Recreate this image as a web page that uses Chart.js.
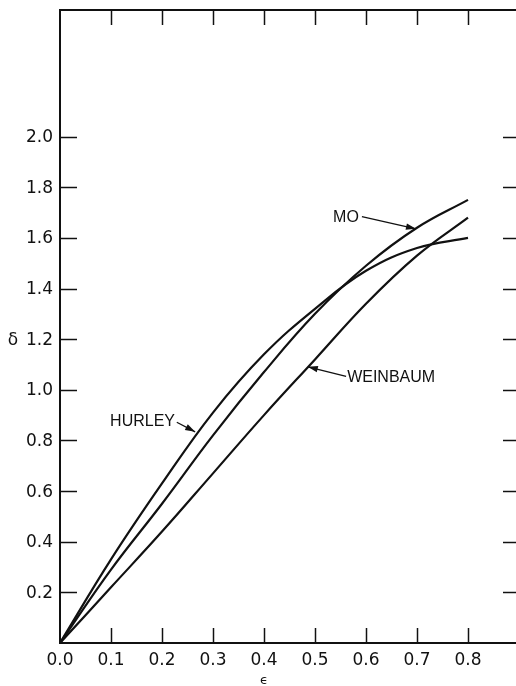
<!DOCTYPE html>
<html>
<head>
<meta charset="utf-8">
<script src="https://cdn.jsdelivr.net/npm/chart.js@4.4.0/dist/chart.umd.min.js"></script>
<style>
  html, body { margin: 0; padding: 0; background: #fff; overflow: hidden; }
  canvas { position: absolute; left: 0; top: 0; }
</style>
</head>
<body>
<canvas id="c" width="530" height="686"></canvas>
<script>
// ---- data ----
const eps      = [0, 0.1, 0.2, 0.3, 0.4, 0.5, 0.6, 0.7, 0.8];
const hurley   = [0, 0.33, 0.63, 0.91, 1.14, 1.32, 1.47, 1.56, 1.60];
const mo       = [0, 0.29, 0.55, 0.82, 1.07, 1.30, 1.49, 1.64, 1.75];
const weinbaum = [0, 0.22, 0.44, 0.67, 0.90, 1.12, 1.34, 1.53, 1.68];
const xTicks   = [0.1, 0.2, 0.3, 0.4, 0.5, 0.6, 0.7, 0.8, 0.9];
const yTicks   = [0.2, 0.4, 0.6, 0.8, 1.0, 1.2, 1.4, 1.6, 1.8, 2.0];
const xLabels  = [0.0, 0.1, 0.2, 0.3, 0.4, 0.5, 0.6, 0.7, 0.8];

const pts = arr => eps.map((x, i) => ({ x: x, y: arr[i] }));

const notes = [
  { text: 'MO',       tx: 0.586, ty: 1.684, align: 'right', fx: 0.592, fy: 1.684, ax: 0.698, ay: 1.636 },
  { text: 'HURLEY',   tx: 0.2255, ty: 0.877, align: 'right', fx: 0.229, fy: 0.872, ax: 0.265, ay: 0.834 },
  { text: 'WEINBAUM', tx: 0.563, ty: 1.051, align: 'left',  fx: 0.561, fy: 1.053, ax: 0.486, ay: 1.091 }
];

const INK = '#111';

const framePlugin = {
  id: 'frame',
  afterDatasetsDraw(chart) {
    const ctx = chart.ctx;
    const xs = chart.scales.x, ys = chart.scales.y;
    const a = chart.chartArea;
    ctx.save();
    ctx.strokeStyle = INK;
    ctx.lineCap = 'butt';
    // frame (the right edge of the original frame lies beyond the picture)
    ctx.lineWidth = 2;
    ctx.beginPath();
    ctx.moveTo(a.right, a.bottom); ctx.lineTo(a.left, a.bottom);
    ctx.lineTo(a.left, a.top); ctx.lineTo(a.right, a.top);
    ctx.stroke();
    // inside ticks
    ctx.lineWidth = 1.5;
    xTicks.forEach(v => {
      const px = Math.round(xs.getPixelForValue(v)) + 0.5;
      ctx.beginPath(); ctx.moveTo(px, a.bottom); ctx.lineTo(px, a.bottom - 15); ctx.stroke();
      ctx.beginPath(); ctx.moveTo(px, a.top); ctx.lineTo(px, a.top + 15); ctx.stroke();
    });
    yTicks.forEach(v => {
      const py = Math.round(ys.getPixelForValue(v)) + 0.5;
      ctx.beginPath(); ctx.moveTo(a.left, py); ctx.lineTo(a.left + 17, py); ctx.stroke();
      ctx.beginPath(); ctx.moveTo(a.right, py); ctx.lineTo(a.right - 16, py); ctx.stroke();
    });
    // tick labels
    ctx.fillStyle = INK;
    ctx.font = '17px "DejaVu Sans"';
    ctx.textBaseline = 'middle';
    ctx.textAlign = 'right';
    yTicks.forEach(v => {
      ctx.fillText(v.toFixed(1), a.left - 7, ys.getPixelForValue(v) + 1);
    });
    ctx.textAlign = 'center';
    xLabels.forEach(v => {
      ctx.fillText(v.toFixed(1), xs.getPixelForValue(v), a.bottom + 18);
    });
    // axis titles
    ctx.font = '17px "DejaVu Sans"';
    ctx.fillText('δ', 13, ys.getPixelForValue(1.2) + 1);
    ctx.font = '13px "DejaVu Sans"';
    ctx.fillText('ϵ', xs.getPixelForValue(0.4), a.bottom + 38);
    // curve labels with arrows
    ctx.font = '16px "Liberation Sans"';
    notes.forEach(n => {
      ctx.textAlign = n.align;
      ctx.fillText(n.text, xs.getPixelForValue(n.tx), ys.getPixelForValue(n.ty) + 1);
      const x1 = xs.getPixelForValue(n.fx), y1 = ys.getPixelForValue(n.fy);
      const x2 = xs.getPixelForValue(n.ax), y2 = ys.getPixelForValue(n.ay);
      ctx.lineWidth = 1.3;
      ctx.beginPath(); ctx.moveTo(x1, y1); ctx.lineTo(x2, y2); ctx.stroke();
      const ang = Math.atan2(y2 - y1, x2 - x1);
      const L = 10, W = 3.2;
      ctx.beginPath();
      ctx.moveTo(x2, y2);
      ctx.lineTo(x2 - L * Math.cos(ang) + W * Math.sin(ang), y2 - L * Math.sin(ang) - W * Math.cos(ang));
      ctx.lineTo(x2 - L * Math.cos(ang) - W * Math.sin(ang), y2 - L * Math.sin(ang) + W * Math.cos(ang));
      ctx.closePath();
      ctx.fill();
    });
    ctx.restore();
  }
};

const lineDs = (label, arr) => ({
  label: label,
  data: pts(arr),
  showLine: true,
  borderColor: INK,
  borderWidth: 2.2,
  pointRadius: 0,
  fill: false,
  tension: 0.4
});

new Chart(document.getElementById('c'), {
  type: 'scatter',
  data: {
    datasets: [
      lineDs('HURLEY', hurley),
      lineDs('MO', mo),
      lineDs('WEINBAUM', weinbaum)
    ]
  },
  options: {
    responsive: false,
    animation: false,
    layout: { padding: { top: 10, right: 11, left: 0, bottom: 0 } },
    plugins: { legend: { display: false }, tooltip: { enabled: false } },
    scales: {
      x: {
        type: 'linear', min: 0, max: 0.9,
        grid: { display: false },
        border: { display: false },
        ticks: { display: false },
        afterFit(s) { s.height = 43; }
      },
      y: {
        type: 'linear', min: 0, max: 2.5,
        grid: { display: false },
        border: { display: false },
        ticks: { display: false },
        afterFit(s) { s.width = 60; }
      }
    }
  },
  plugins: [framePlugin]
});
</script>
</body>
</html>
